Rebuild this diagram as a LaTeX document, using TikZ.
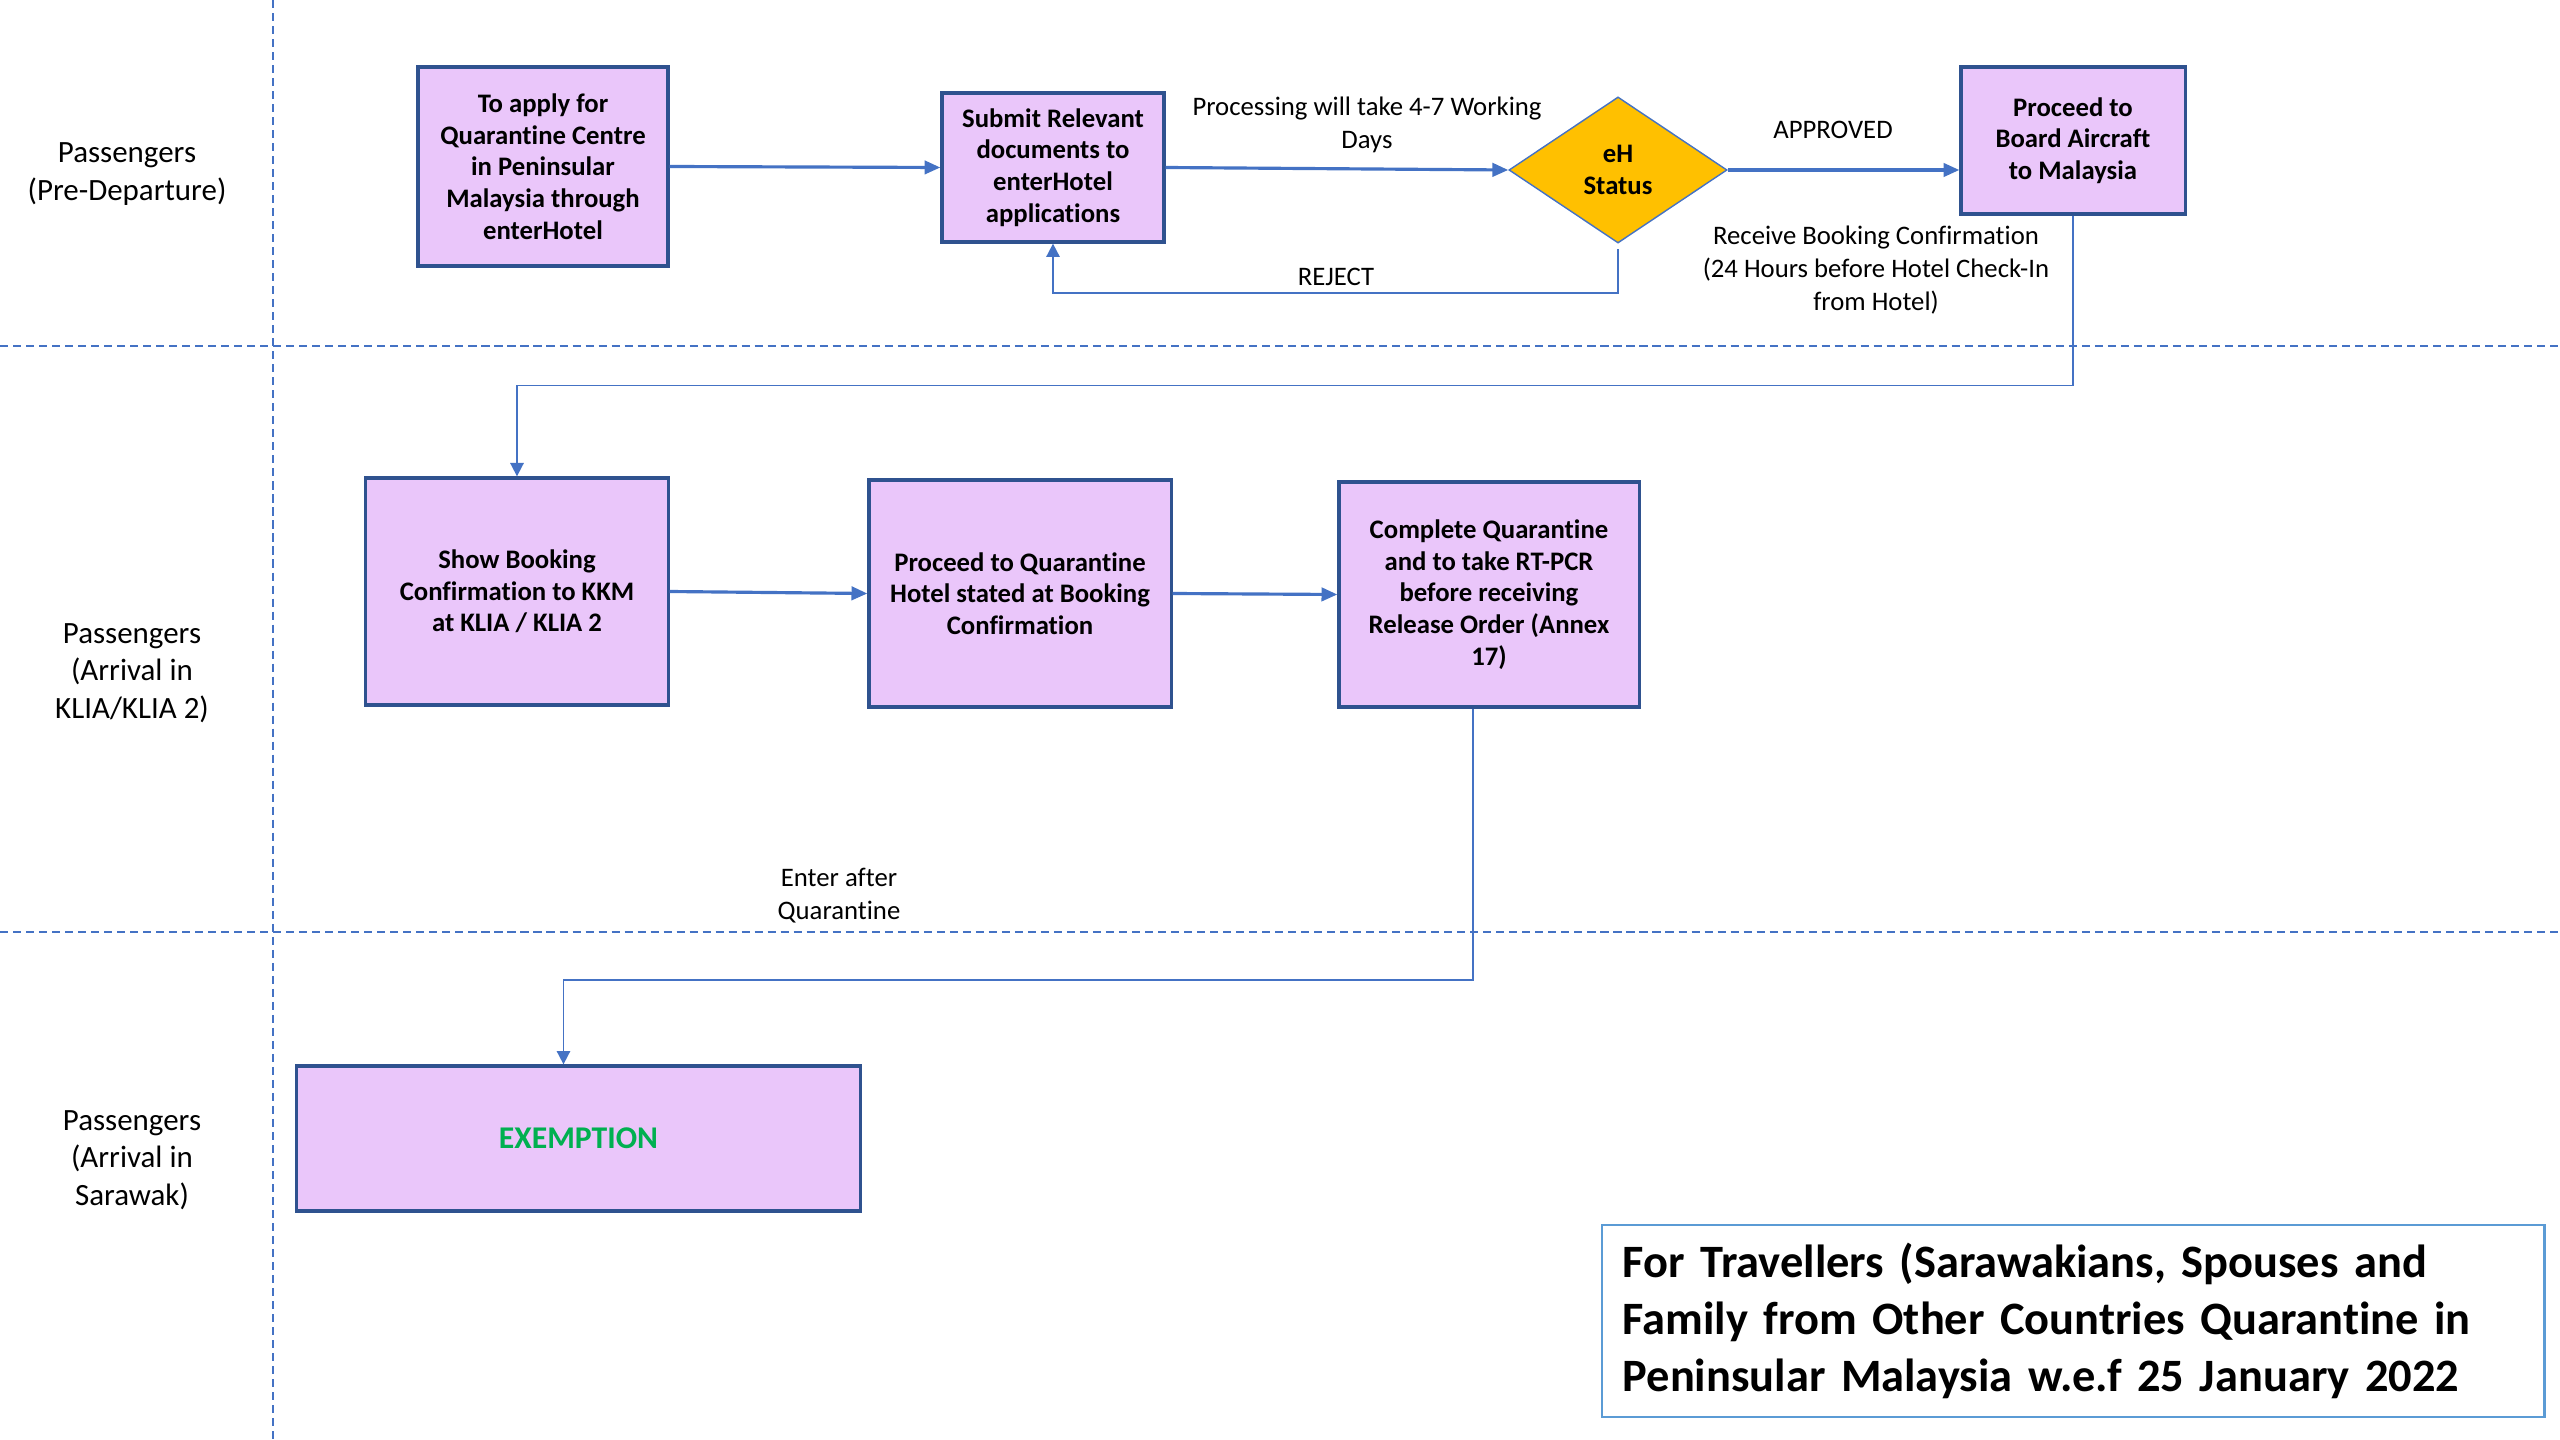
\documentclass[tikz,border=0pt]{standalone}
\usepackage{fontspec}
\setmainfont{Carlito}[RawFeature={-liga;-clig;-dlig;-calt}]
\usetikzlibrary{shapes.geometric,arrows.meta}
\definecolor{boxfill}{HTML}{EAC6FA}
\definecolor{boxline}{HTML}{2F528F}
\definecolor{flowblue}{HTML}{4472C4}
\definecolor{gold}{HTML}{FFC000}
\definecolor{titleline}{HTML}{5B9BD5}
\definecolor{exgreen}{HTML}{00B050}

\begin{document}
\begin{tikzpicture}[x=0.01cm, y=-0.01cm,
    stagebox/.style={rectangle, draw=boxline, line width=0.9pt, fill=boxfill, align=center,
        inner sep=0pt, font=\bfseries\fontsize{7.6}{9}\selectfont},
    decision/.style={diamond, draw=flowblue, line width=0.4pt, fill=gold, align=center,
        inner sep=0pt, aspect=1.5, font=\bfseries\fontsize{7.6}{9}\selectfont},
    lane/.style={align=center, font=\fontsize{8.8}{10.6}\selectfont},
    note/.style={align=center, font=\fontsize{7.6}{9.4}\selectfont},
    flow/.style={draw=flowblue, line width=0.9pt, -{Triangle[length=4.5pt, width=3.8pt]}},
    elbow/.style={draw=flowblue, line width=0.5pt, -{Triangle[length=3.8pt, width=3.8pt]}},
    lanesep/.style={draw=flowblue, line width=0.7pt, dash pattern=on 2.3pt off 1.4pt}]

    \useasboundingbox (0,0) rectangle (2560,1440);
    \fill[white] (0,0) rectangle (2560,1440);

    % Swimlane separators
    \draw[lanesep] (273,0) -- (273,1440);
    \draw[lanesep] (0,346) -- (2560,346);
    \draw[lanesep] (0,932) -- (2560,932);

    % Lane titles
    \node[lane] (lanePre) at (127,174) {Passengers\\(Pre-Departure)};
    \node[lane] (laneKLIA) at (132,673) {Passengers\\(Arrival in\\KLIA/KLIA 2)};
    \node[lane] (laneSwk) at (132,1160) {Passengers\\(Arrival in\\Sarawak)};

    % Pre-departure steps
    \node[stagebox, minimum width=2.50cm, minimum height=1.99cm] (apply) at (543,166.5)
        {To apply for\\Quarantine Centre\\in Peninsular\\Malaysia through\\enterHotel};
    \node[stagebox, minimum width=2.22cm, minimum height=1.49cm] (submit) at (1053,167.5)
        {Submit Relevant\\documents to\\enterHotel\\applications};
    \node[decision, minimum width=2.18cm, minimum height=1.46cm] (status) at (1618,170)
        {eH\\Status};
    \node[stagebox, minimum width=2.24cm, minimum height=1.47cm] (board) at (2073,140.5)
        {Proceed to\\Board Aircraft\\to Malaysia};

    % Arrival in KLIA steps
    \node[stagebox, minimum width=3.02cm, minimum height=2.27cm] (show) at (517,591.5)
        {Show Booking\\Confirmation to KKM\\at KLIA / KLIA 2};
    \node[stagebox, minimum width=3.02cm, minimum height=2.27cm] (hotel) at (1020,593.5)
        {Proceed to Quarantine\\Hotel stated at Booking\\Confirmation};
    \node[stagebox, minimum width=3.00cm, minimum height=2.25cm] (release) at (1489,594.5)
        {Complete Quarantine\\and to take RT-PCR\\before receiving\\Release Order (Annex\\17)};

    % Arrival in Sarawak
    \node[stagebox, minimum width=5.63cm, minimum height=1.45cm,
        font=\bfseries\fontsize{9}{11}\selectfont, text=exgreen] (exempt) at (578.5,1138.5) {EXEMPTION};

    % Labels
    \node[note] (days) at (1367,125) {Processing will take 4-7 Working\\Days};
    \node[note] (approved) at (1833,130) {APPROVED};
    \node[note] (reject) at (1336,277) {REJECT};
    \node[note] (receive) at (1876,270) {Receive Booking Confirmation\\(24 Hours before Hotel Check-In\\from Hotel)};
    \node[note] (enter) at (839,896) {Enter after\\Quarantine};

    % Title
    \node[draw=titleline, line width=0.7pt, minimum width=9.42cm, minimum height=1.92cm,
        text width=9.0cm, align=left, font=\bfseries\fontsize{13.2}{16.2}\selectfont] (title) at (2073,1321)
        {For Travellers (Sarawakians, Spouses and\\Family from Other Countries Quarantine in\\Peninsular Malaysia w.e.f 25 January 2022};

    % Draw edges
    \draw[flow] (apply.east) -- (submit.west);
    \draw[flow] (submit.east) -- (status.west);
    \draw[flow] (status.east) -- (status.east -| board.west);
    \draw[elbow, shorten <=1.5pt] (status.south) -- ++(0,49) -| (submit.south);
    \draw[elbow] (board.south) -- ++(0,170) -| (show.north);
    \draw[flow] (show.east) -- (hotel.west);
    \draw[flow] (hotel.east) -- (release.west);
    \draw[elbow] ([xshift=-0.16cm]release.south) -- ++(0,271) -| ([xshift=-0.15cm]exempt.north);

\end{tikzpicture}
\end{document}
